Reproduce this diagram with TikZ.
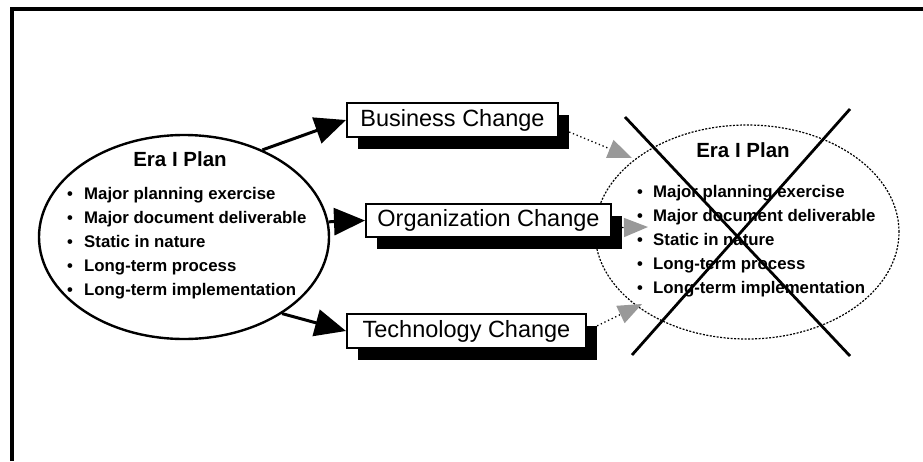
\documentclass[tikz,border=0pt]{standalone}
\usepackage{fontspec}
\setmainfont{Liberation Sans}
\usetikzlibrary{arrows.meta,shapes.geometric,calc}
\begin{document}
\begin{tikzpicture}[x=1pt,y=-1pt,
  plan/.style={draw, ellipse, inner sep=0pt},
  changebox/.style={draw, fill=white, line width=2pt, inner sep=0pt, font=\fontsize{23.5}{26}\selectfont},
  shadowbox/.style={fill=black, inner sep=0pt},
  bullettext/.style={anchor=base west, inner sep=0pt, font=\fontsize{16.8}{19}\selectfont\bfseries},
  bulletdot/.style={anchor=base, inner sep=0pt, font=\fontsize{16.5}{19}\selectfont\bfseries},
  plantitle/.style={anchor=base, inner sep=0pt, font=\fontsize{20.5}{24}\selectfont\bfseries},
  solidarrow/.style={line width=3pt, -{Triangle[length=31pt,width=27pt]}},
  dottedarrow/.style={line width=1.3pt, dash pattern=on 1.3pt off 2.7pt, -{Triangle[length=24pt,width=19pt,color=black!40]}},
  crossline/.style={line width=2.8pt}
]
\useasboundingbox (0,0) rectangle (923,461);
% frame
\draw[line width=3.2pt] (12,461) -- (12,9) -- (923,9);

% left plan
\node[plan, line width=2.4pt, minimum width=290pt, minimum height=204pt] (L) at (184,237) {};
\node[plantitle] (Ltitle) at (180,166) {Era I Plan};
\foreach \t [count=\i from 0] in {Major planning exercise,Major document deliverable,Static in nature,Long-term process,Long-term implementation}{
  \node[bulletdot] (Lb\i) at (70,199+24*\i) {•};
  \node[bullettext] (Lt\i) at (84,199+24*\i) {\t};
}

% right plan (crossed out)
\node[plan, line width=1.2pt, draw=black, dash pattern=on 2pt off 1.5pt, minimum width=304pt, minimum height=214pt] (R) at (747,232) {};
\node[plantitle] (Rtitle) at (743,157) {Era I Plan};
\foreach \t [count=\i from 0] in {Major planning exercise,Major document deliverable,Static in nature,Long-term process,Long-term implementation}{
  \node[bulletdot] (Rb\i) at (640,197+24*\i) {•};
  \node[bullettext] (Rt\i) at (653,197+24*\i) {\t};
}

% change boxes with shadows
\node[shadowbox, minimum width=211pt, minimum height=34pt] (busS) at (463.5,132) {};
\node[changebox, minimum width=211pt, minimum height=34pt] (bus) at (452.5,120) {Business Change};
\node[shadowbox, minimum width=245pt, minimum height=33pt] (orgS) at (499.5,232.5) {};
\node[changebox, minimum width=245pt, minimum height=33pt] (org) at (488.5,220.5) {Organization Change};
\node[shadowbox, minimum width=239pt, minimum height=34pt] (techS) at (477.5,343) {};
\node[changebox, minimum width=239pt, minimum height=34pt] (tech) at (466.5,331) {Technology Change};

% solid arrows
\draw[solidarrow] (L.48) -- (bus.west);
\draw[solidarrow] (L.6) -- (org.west);
\draw[solidarrow] (L.-38) -- (tech.west);

% dotted arrows
\coordinate (busT) at (632,158);
\coordinate (orgT) at (648,227);
\coordinate (techT) at (642,304);
\draw[dottedarrow] (busS.east) -- (busT);
\draw[dottedarrow] ($(orgS.east)+(0,-5)$) -- (orgT);
\draw[dottedarrow] (techS.north east) -- (techT);

% cross
\draw[crossline] (625,117) -- (850,356);
\draw[crossline] (850,109) -- (632,355);
\end{tikzpicture}
\end{document}
